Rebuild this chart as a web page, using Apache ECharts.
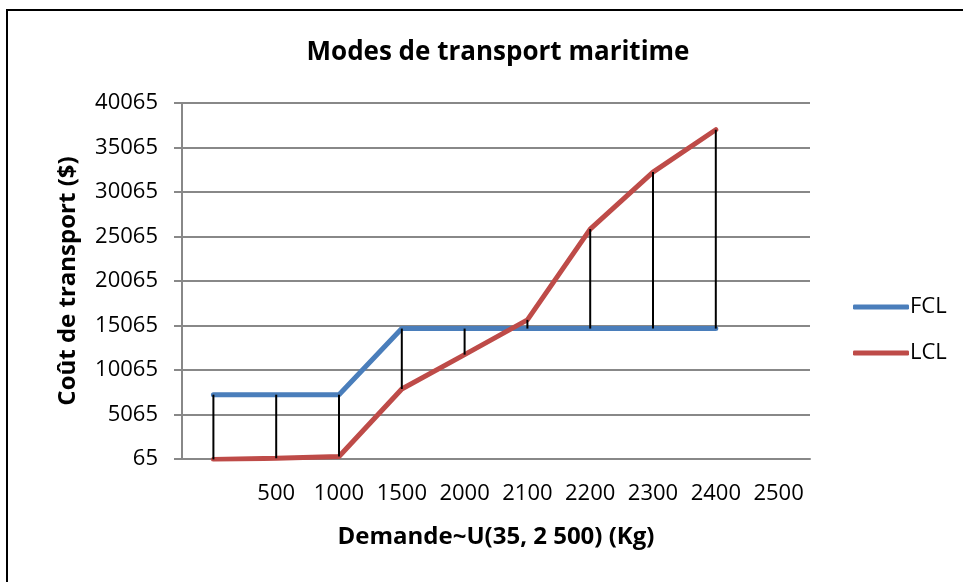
<!DOCTYPE html>
<html>
<head>
<meta charset="utf-8">
<script src="https://cdn.jsdelivr.net/npm/echarts@6/dist/echarts.min.js"></script>
<style>
html, body { margin: 0; padding: 0; background: #fff; }
#frame {
    position: absolute; left: 6px; top: 9px; width: 970px; height: 590px;
    border: 2px solid #000; box-sizing: border-box;
}
#main { position: absolute; left: 0; top: 0; width: 963px; height: 582px; }
</style>
</head>
<body>
<div id="frame"></div>
<div id="main"></div>
<script>
// demande (kg), first category has no label
var categories = ['', '500', '1000', '1500', '2000', '2100', '2200', '2300', '2400', '2500'];
var fcl = [7290, 7290, 7290, 14720, 14720, 14720, 14720, 14720, 14720, null];
var lcl = [20, 150, 350, 7930, 11790, 15700, 25900, 32300, 37060, null];

var yMin = 65;
var yMax = 40065;
var yStep = 5000;

var font = '"Open Sans", sans-serif';

// high-low lines between the two series
var dropData = [];
for (var i = 0; i < categories.length; i++) {
    if (fcl[i] != null && lcl[i] != null) {
        dropData.push([i, fcl[i], lcl[i]]);
    }
}

var myChart = echarts.init(document.getElementById('main'));
var option = {
    animation: false,
    title: {
        text: 'Modes de transport maritime',
        left: 493,
        textAlign: 'center',
        top: 35,
        textStyle: { fontFamily: font, fontSize: 26, fontWeight: 'bold', color: '#000' }
    },
    grid: {
        left: 182,
        right: 153,
        top: 103,
        bottom: 123
    },
    legend: {
        orient: 'vertical',
        left: 848,
        top: 291,
        itemWidth: 56,
        itemHeight: 5,
        itemGap: 24,
        icon: 'roundRect',
        data: ['FCL', 'LCL'],
        textStyle: { fontFamily: font, fontSize: 22, color: '#000', padding: [0, 0, 0, -4] }
    },
    xAxis: {
        type: 'category',
        data: categories,
        boundaryGap: true,
        name: 'Demande~U(35, 2 500) (Kg)',
        nameLocation: 'middle',
        nameGap: 66,
        nameTextStyle: { fontFamily: font, fontSize: 24, fontWeight: 'bold', color: '#000' },
        axisLine: { lineStyle: { color: '#888', width: 2 } },
        axisTick: { show: false },
        axisLabel: { fontFamily: font, fontSize: 22, color: '#000', margin: 24, interval: 0 }
    },
    yAxis: {
        type: 'value',
        min: yMin,
        max: yMax,
        interval: yStep,
        name: 'Coût de transport ($)',
        nameLocation: 'middle',
        nameGap: 102,
        nameTextStyle: { fontFamily: font, fontSize: 24, fontWeight: 'bold', color: '#000' },
        axisLine: { show: true, lineStyle: { color: '#888', width: 2 } },
        axisTick: { show: true, length: 8, lineStyle: { color: '#888', width: 2 } },
        axisLabel: {
            fontFamily: font, fontSize: 22, color: '#000', margin: 24,
            formatter: function (v) { return String(v); }
        },
        splitLine: { lineStyle: { color: '#888', width: 2 } }
    },
    series: [
        {
            name: 'FCL',
            type: 'line',
            data: fcl,
            symbol: 'none',
            color: '#4A7EBB',
            lineStyle: { width: 5, color: '#4A7EBB', cap: 'round' },
            z: 3
        },
        {
            name: 'LCL',
            type: 'line',
            data: lcl,
            symbol: 'none',
            color: '#BE4B48',
            lineStyle: { width: 5, color: '#BE4B48', cap: 'round' },
            z: 3
        },
        {
            name: 'drop',
            type: 'custom',
            data: dropData,
            z: 4,
            renderItem: function (params, api) {
                var a = api.coord([api.value(0), api.value(1)]);
                var b = api.coord([api.value(0), api.value(2)]);
                return {
                    type: 'line',
                    shape: { x1: a[0], y1: a[1], x2: b[0], y2: b[1] },
                    style: { stroke: '#000', lineWidth: 2 }
                };
            }
        }
    ]
};
myChart.setOption(option);
</script>
</body>
</html>
